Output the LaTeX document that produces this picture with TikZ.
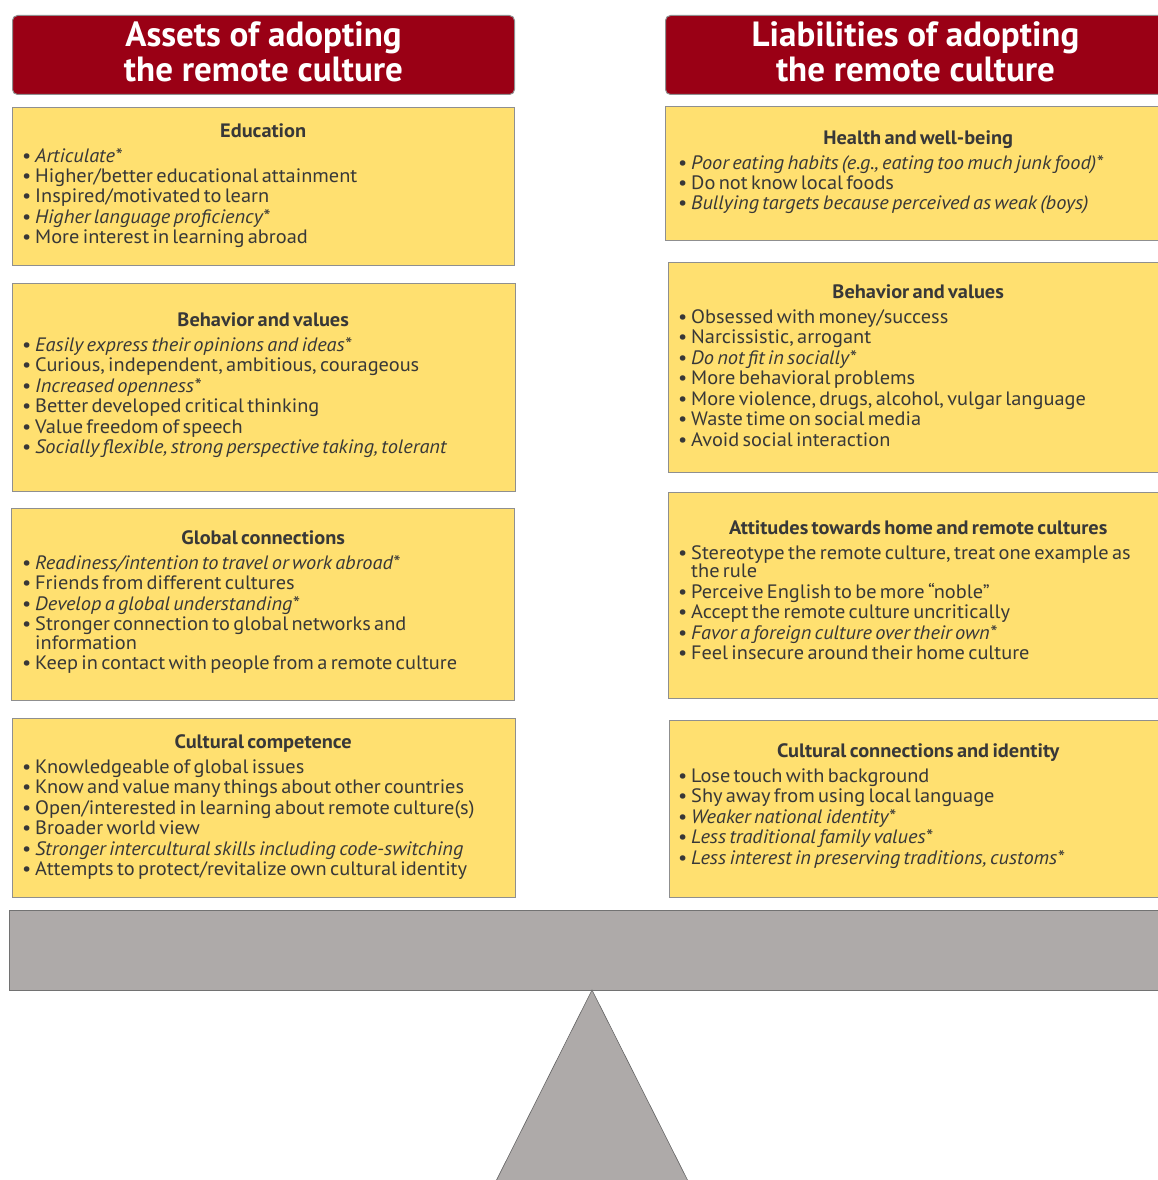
\documentclass[tikz,border=0pt]{standalone}
\usepackage{fontspec}
\setmainfont{PT Sans}
\newfontfamily\cardfont{PT Sans}[FakeStretch=1.05]
\usetikzlibrary{positioning}

\definecolor{headred}{HTML}{9A0015}
\definecolor{cardyellow}{HTML}{FFE070}
\definecolor{framegray}{HTML}{8F8F8F}
\definecolor{beamgray}{HTML}{AEAAA9}
\definecolor{inkgray}{HTML}{383838}

\newcommand{\cardhead}[1]{\cardfont\fontsize{19.4}{18.5}\selectfont\setlength{\parskip}{2pt}\setlength{\lineskiplimit}{-50pt}{\centering\bfseries #1\par}\vspace{4.5pt}}
\newcommand{\itm}[1]{\par\noindent\hangindent=13pt\hangafter=1\makebox[13pt][l]{\textbullet}#1}

\begin{document}
\begin{tikzpicture}[x=1pt,y=-1pt,
  headbox/.style={fill=headred,draw=framegray,line width=1pt,rounded corners=5pt,anchor=north west,inner sep=0pt,minimum height=79pt},
  headtext/.style={inner sep=0pt,text=white,align=center,font=\fontsize{35}{35}\selectfont\bfseries},
  card/.style={fill=cardyellow,draw=framegray,line width=1.3pt,anchor=north west,inner sep=0pt},
  cardtext/.style={anchor=base west,inner sep=0pt,text width=#1,align=left,text=inkgray}]

\useasboundingbox (0,0) rectangle (1158,1180);

%headers
\node[headbox,minimum width=502pt] (assets) at (12,15) {};
\node[headtext] (assetstxt) at ([yshift=3pt]assets.center) {Assets of adopting\\the remote culture};
\node[headbox,minimum width=500pt] (liabs) at (665,15) {};
\node[headtext] (liabstxt) at ([yshift=3pt]liabs.center) {Liabilities of adopting\\the remote culture};

%left boxes
\node[card,minimum width=502pt,minimum height=158pt] (edu) at (12,107) {};
\node[cardtext=482pt] (edutxt) at (22,137) {\cardhead{Education}
  \itm{\textit{Articulate*}}
  \itm{Higher/better educational attainment}
  \itm{Inspired/motivated to learn}
  \itm{\textit{Higher language proficiency*}}
  \itm{More interest in learning abroad}\par};

\node[card,minimum width=503pt,minimum height=208pt] (behl) at (12,283) {};
\node[cardtext=482pt] (behltxt) at (22,326) {\cardhead{Behavior and values}
  \itm{\textit{Easily express their opinions and ideas*}}
  \itm{Curious, independent, ambitious, courageous}
  \itm{\textit{Increased openness*}}
  \itm{Better developed critical thinking}
  \itm{Value freedom of speech}
  \itm{\textit{Socially flexible, strong perspective taking, tolerant}}\par};

\node[card,minimum width=503pt,minimum height=192pt] (glob) at (11,508) {};
\node[cardtext=482pt] (globtxt) at (22,544) {\cardhead{Global connections}
  \itm{\textit{Readiness/intention to travel or work abroad*}}
  \itm{Friends from different cultures}
  \itm{\textit{Develop a global understanding*}}
  \itm{Stronger connection to global networks and\newline information}
  \itm{Keep in contact with people from a remote culture}\par};

\node[card,minimum width=503pt,minimum height=179pt] (comp) at (12,718) {};
\node[cardtext=482pt] (comptxt) at (22,748) {\cardhead{Cultural competence}
  \itm{Knowledgeable of global issues}
  \itm{Know and value many things about other countries}
  \itm{Open/interested in learning about remote culture(s)}
  \itm{Broader world view}
  \itm{\textit{Stronger intercultural skills including code-switching}}
  \itm{Attempts to protect/revitalize own cultural identity}\par};

%right boxes
\node[card,minimum width=500pt,minimum height=134pt] (health) at (665,106) {};
\node[cardtext=480pt] (healthtxt) at (678,144) {\cardhead{Health and well-being}
  \itm{\textit{Poor eating habits (e.g., eating too much junk food)*}}
  \itm{Do not know local foods}
  \itm{\textit{Bullying targets because perceived as weak (boys)}}\par};

\node[card,minimum width=500pt,minimum height=210pt] (behr) at (668,262) {};
\node[cardtext=480pt] (behrtxt) at (678,298) {\cardhead{Behavior and values}
  \itm{Obsessed with money/success}
  \itm{Narcissistic, arrogant}
  \itm{\textit{Do not fit in socially*}}
  \itm{More behavioral problems}
  \itm{More violence, drugs, alcohol, vulgar language}
  \itm{Waste time on social media}
  \itm{Avoid social interaction}\par};

\node[card,minimum width=500pt,minimum height=206pt] (att) at (668,492) {};
\node[cardtext=480pt] (atttxt) at (678,534) {\cardhead{Attitudes towards home and remote cultures}
  \itm{Stereotype the remote culture, treat one example as\newline the rule}
  \itm{Perceive English to be more “noble”}
  \itm{Accept the remote culture uncritically}
  \itm{\textit{Favor a foreign culture over their own*}}
  \itm{Feel insecure around their home culture}\par};

\node[card,minimum width=500pt,minimum height=177pt] (conn) at (669,720) {};
\node[cardtext=480pt] (conntxt) at (678,757) {\cardhead{Cultural connections and identity}
  \itm{Lose touch with background}
  \itm{Shy away from using local language}
  \itm{\textit{Weaker national identity*}}
  \itm{\textit{Less traditional family values*}}
  \itm{\textit{Less interest in preserving traditions, customs*}}\par};

%beam and fulcrum
\node[fill=beamgray,draw=framegray!80!black,line width=1.3pt,anchor=north west,inner sep=0pt,minimum width=1170pt,minimum height=80pt] (beam) at (9,910) {};
\coordinate (apex) at (592,990);
\draw[fill=beamgray,draw=framegray!70!black,line width=0.6pt] (apex) -- (491.5,1190) -- (692.5,1190) -- cycle;
\end{tikzpicture}
\end{document}
